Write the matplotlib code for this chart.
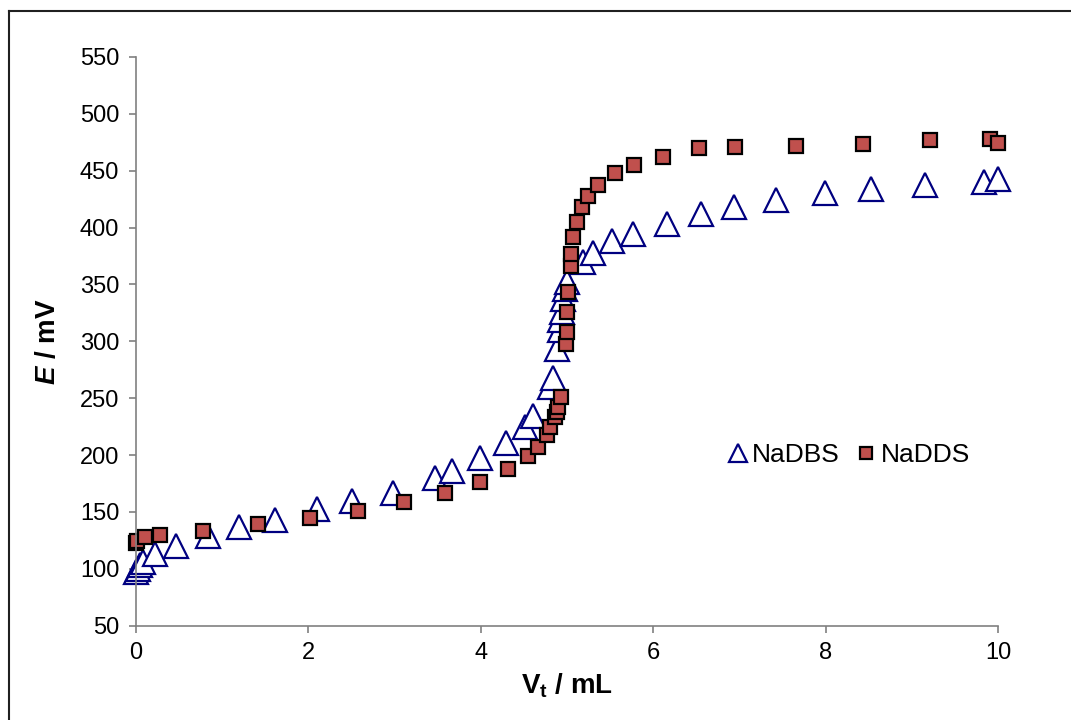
import matplotlib
matplotlib.use("Agg")
import matplotlib.pyplot as plt
from matplotlib.lines import Line2D

plt.rcParams['font.family'] = ['Liberation Sans', 'DejaVu Sans']
plt.rcParams['mathtext.fontset'] = 'custom'
plt.rcParams['mathtext.it'] = 'Liberation Sans:italic:bold'
plt.rcParams['mathtext.rm'] = 'Liberation Sans:bold'
plt.rcParams['mathtext.bf'] = 'Liberation Sans:bold'

# NaDBS (triangles)
dbs_v = [0.0, 0.02, 0.05, 0.08, 0.22, 0.46, 0.84, 1.2, 1.61, 2.1, 2.5, 2.98,
         3.47, 3.66, 3.99, 4.29, 4.51, 4.61, 4.80, 4.84, 4.88, 4.92, 4.92,
         4.94, 4.95, 4.98, 5.0, 5.19, 5.30, 5.52, 5.77, 6.16, 6.55, 6.94,
         7.42, 7.99, 8.52, 9.15, 9.84, 10.0]
dbs_e = [97, 100, 103, 106, 113, 120, 129, 137, 143, 153, 160, 167,
         180, 186, 197, 211, 225, 234, 260, 268, 293, 310, 319,
         326, 337, 346, 352, 370, 378, 388, 394, 403, 412, 418,
         424, 430, 434, 437, 440, 443]

# NaDDS (squares)
dds_v = [0.0, 0.01, 0.1, 0.28, 0.78, 1.42, 2.02, 2.58, 3.11, 3.58, 3.99,
         4.32, 4.55, 4.66, 4.77, 4.80, 4.86, 4.88, 4.89, 4.93, 4.99, 5.0,
         5.0, 5.01, 5.05, 5.05, 5.07, 5.12, 5.17, 5.24, 5.36, 5.56, 5.78,
         6.11, 6.53, 6.95, 7.66, 8.43, 9.21, 9.91, 10.0]
dds_e = [123, 124, 128, 130, 133, 139, 145, 151, 159, 167, 176,
         188, 199, 207, 218, 225, 233, 238, 242, 251, 298, 308,
         326, 343, 366, 377, 392, 405, 418, 428, 437, 448, 455,
         462, 470, 471, 472, 473, 477, 478, 474]

fig = plt.figure(figsize=(10.71, 7.2), dpi=100)
ax = fig.add_axes([0.127, 0.131, 0.805, 0.790])

ax.plot(dbs_v, dbs_e, linestyle='none', marker='^', markersize=17,
        markerfacecolor='white', markeredgecolor='#000080',
        markeredgewidth=1.6, label='NaDBS', clip_on=False)
ax.plot(dds_v, dds_e, linestyle='none', marker='s', markersize=10.5,
        markerfacecolor='#C0504D', markeredgecolor='black',
        markeredgewidth=1.6, label='NaDDS', clip_on=False)

ax.set_xlim(0, 10)
ax.set_ylim(50, 550)
ax.set_xticks([0, 2, 4, 6, 8, 10])
ax.set_yticks(range(50, 551, 50))

for s in ['top', 'right']:
    ax.spines[s].set_visible(False)
for s in ['left', 'bottom']:
    ax.spines[s].set_color('#808080')
    ax.spines[s].set_linewidth(1.2)
ax.tick_params(direction='out', length=5, width=1.2, color='#808080',
               labelsize=17, pad=7)

ax.set_xlabel(r'V$_\mathrm{t}$ / mL', fontsize=20, fontweight='bold', labelpad=5)
ax.set_ylabel(r'$E$ / mV', fontsize=20, fontweight='bold', labelpad=14)

ax.legend(loc='center', bbox_to_anchor=(0.825, 0.30), ncol=2, frameon=False,
          fontsize=19, handletextpad=0.05, columnspacing=0.5,
          handlelength=1.0, markerscale=0.8)

# chart area border (Excel-style, cropped at right and bottom)
fig.add_artist(Line2D([8.5 / 1071, 8.5 / 1071], [0, 1 - 10.5 / 720],
                      transform=fig.transFigure, color='#202020', lw=1.5))
fig.add_artist(Line2D([8.5 / 1071, 1], [1 - 10.5 / 720, 1 - 10.5 / 720],
                      transform=fig.transFigure, color='#202020', lw=1.5))

fig.savefig('out.png', dpi=100)
